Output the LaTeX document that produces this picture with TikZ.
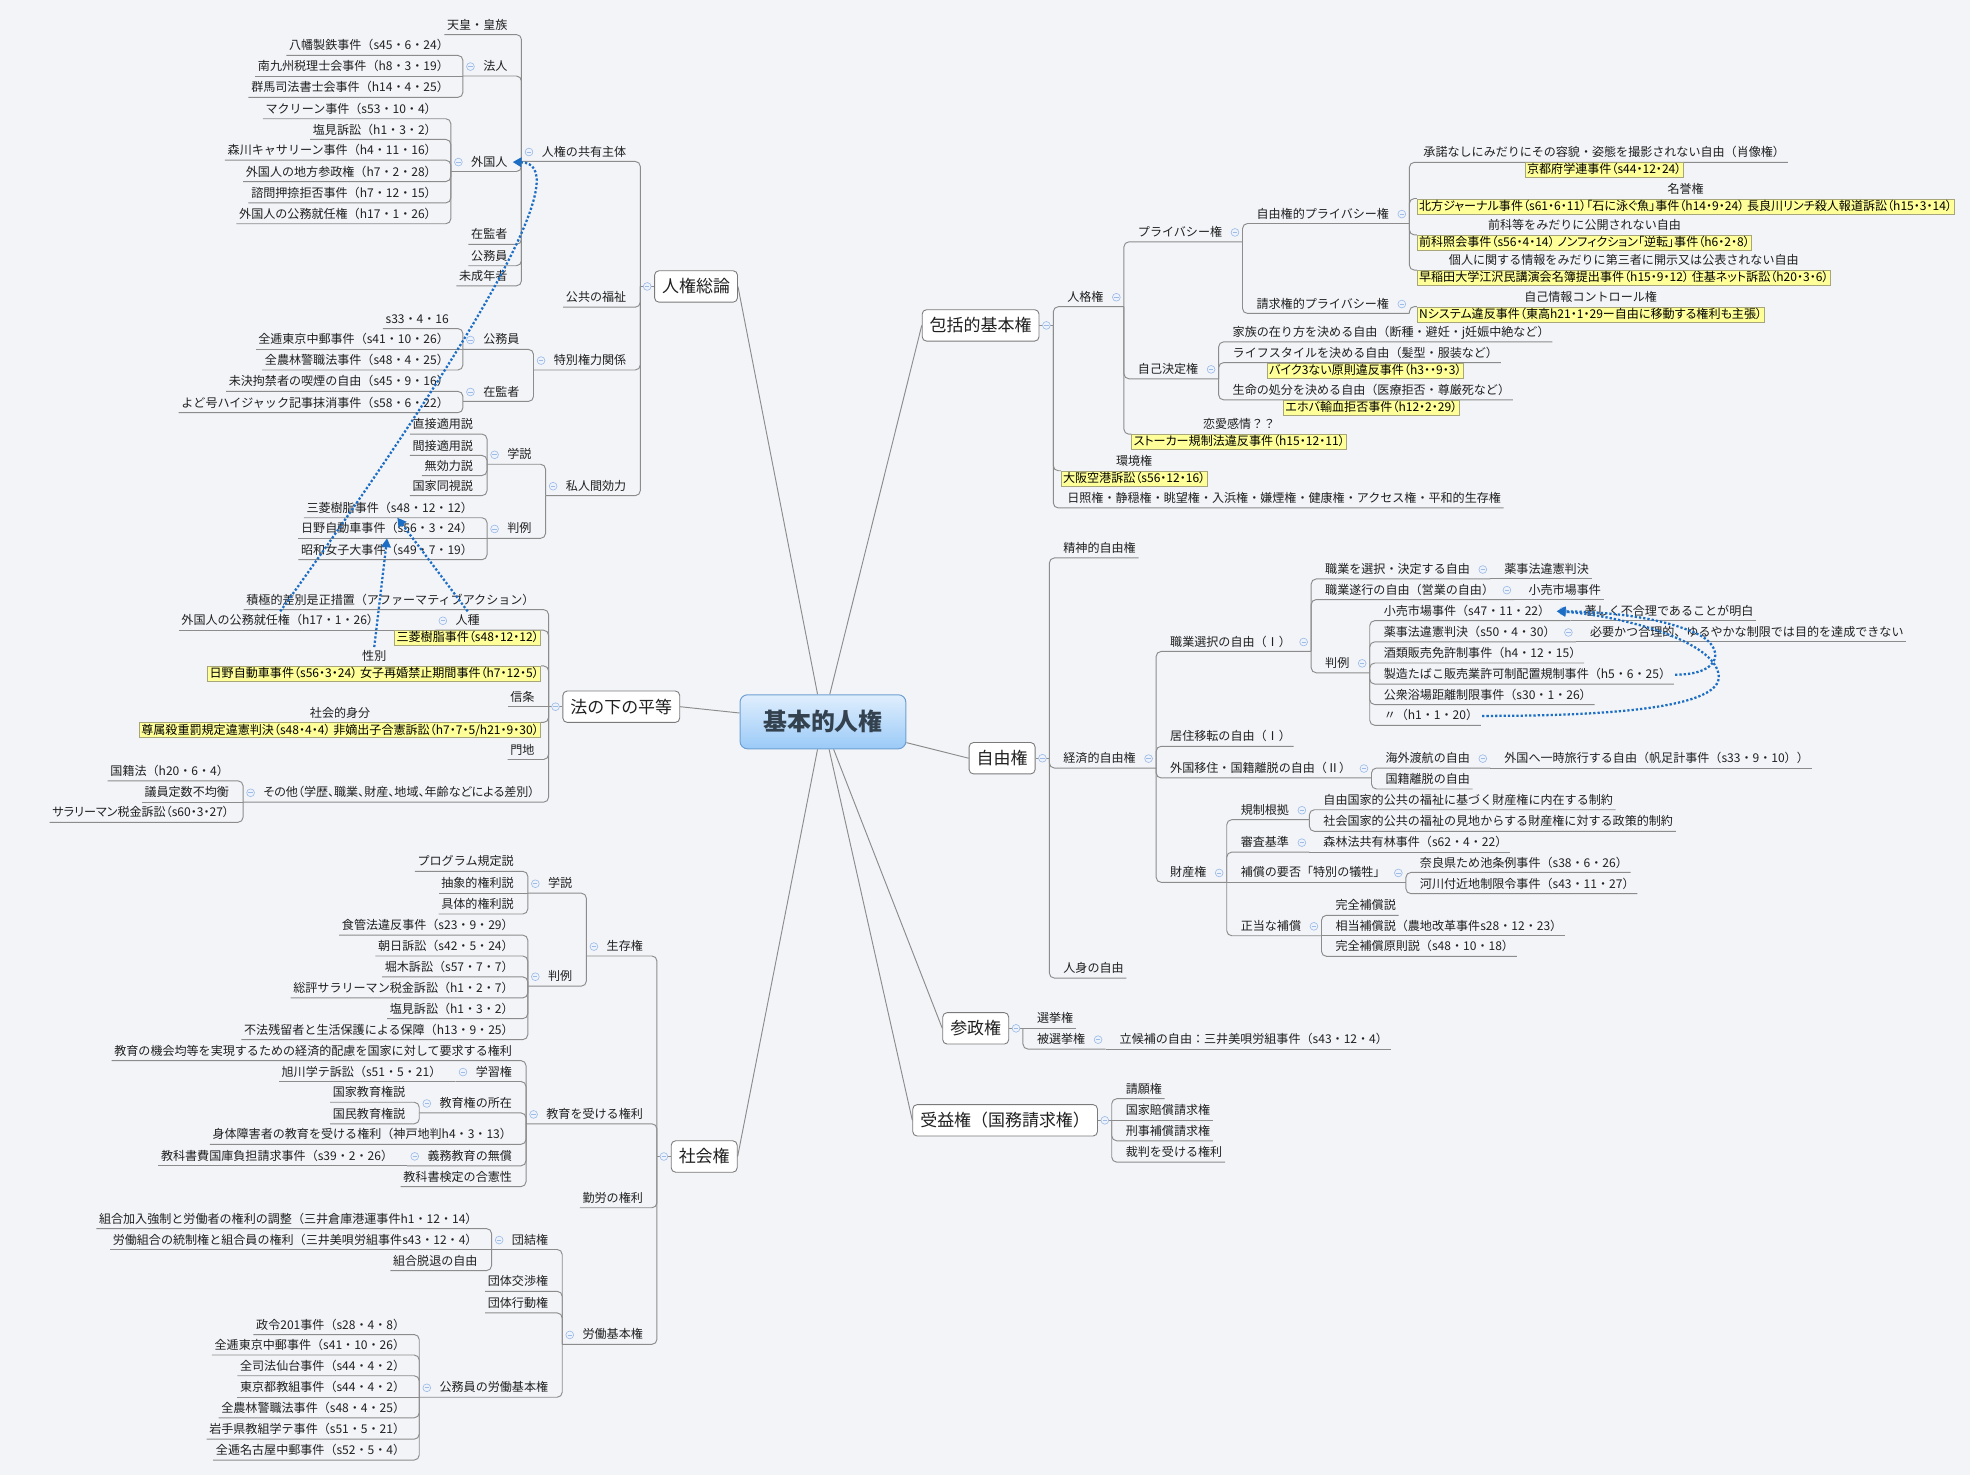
\documentclass[tikz,border=0pt]{standalone}
\usepackage{fontspec}
\newfontfamily\jpn{Noto Sans CJK JP}
\newfontfamily\jpy[RawFeature=+palt]{Noto Sans CJK JP}
\usetikzlibrary{arrows.meta}
\definecolor{bgcol}{HTML}{F2F4F8}
\definecolor{lncol}{HTML}{8C8C8C}
\definecolor{txtcol}{HTML}{202020}
\definecolor{iccol}{HTML}{9DBBE6}
\definecolor{icfill}{HTML}{EEF3FB}
\definecolor{yfill}{HTML}{FFFF99}
\definecolor{ydraw}{HTML}{A6A67A}
\definecolor{boxcol}{HTML}{7A7A7A}
\definecolor{relcol}{HTML}{1C6DC4}
\definecolor{cenT}{HTML}{E0EEFD}
\definecolor{cenB}{HTML}{9ACAF7}
\definecolor{cenbd}{HTML}{6E9FD2}
\definecolor{centx}{HTML}{34424F}
\pgfdeclarelayer{bgl}
\pgfdeclarelayer{background}
\pgfsetlayers{bgl,background,main}
\tikzset{
  tx/.style={font=\jpn\fontsize{9.6pt}{11pt}\selectfont, text=txtcol, inner xsep=2pt, inner ysep=2.5pt, text height=8pt, text depth=1.6pt},
  ybox/.style={font=\jpy\fontsize{9.6pt}{11pt}\selectfont, text=black, fill=yfill, draw=ydraw, line width=0.5pt, inner xsep=1.5pt, inner ysep=1.2pt, text height=7.8pt, text depth=1.8pt},
  ln/.style={draw=lncol, line width=0.75pt, rounded corners=4pt},
  ic/.style={circle, draw=iccol, fill=icfill, line width=0.5pt, minimum size=6.2pt, inner sep=0pt,
    path picture={\draw[iccol,line width=0.6pt] ([xshift=-1.7pt]path picture bounding box.center) -- ([xshift=1.7pt]path picture bounding box.center);}},
  mbox/.style={font=\jpn\fontsize{13.5pt}{15pt}\selectfont, text=txtcol, draw=boxcol, fill=white, rounded corners=3.5pt, line width=0.7pt, inner xsep=6pt, inner ysep=0pt, minimum height=25pt},
  central/.style={font=\jpn\bfseries\fontsize{19pt}{21pt}\selectfont, text=centx, draw=cenbd, line width=0.8pt, rounded corners=6pt, top color=cenT, bottom color=cenB, minimum width=132pt, minimum height=43pt},
  rel/.style={draw=relcol, line width=1.8pt, dash pattern=on 1.8pt off 1.6pt, -{Triangle[length=7pt,width=7.5pt]}},
}
\newcommand\onbg[1]{\begin{pgfonlayer}{background}#1\end{pgfonlayer}}
% left side
\newcommand\lfL[4]{%
  \node[tx,anchor=east,xshift=-9pt] (#1) at (#2 |- 0,#3) {#4};%
  \onbg{\draw[ln] (#2) |- (#1.south west);}}
\newcommand\lfLs[3]{%
  \node[tx,anchor=south east,xshift=-9pt] (#1) at (#2) {#3};%
  \onbg{\draw[ln] (#2) -- (#1.south west);}}
\newcommand\ndL[4]{%
  \node[tx,anchor=east,xshift=-9pt] (#1) at (#2 |- 0,#3) {#4};%
  \node[ic] (#1i) at ([xshift=-8pt]#1.west) {};%
  \coordinate (#1j) at ([xshift=-14pt]#1.south west);%
  \onbg{\draw[ln] (#2) |- (#1j);}}
\newcommand\ylLb[5]{%
  \node[ybox,anchor=north east,xshift=-6pt] (#1b) at (#2 |- 0,#3) {#5};%
  \node[tx,anchor=south] (#1) at (#1b.north) {#4};%
  \onbg{\draw[ln] (#2) |- (#1b.north east);}}
% right side
\newcommand\lfR[4]{%
  \node[tx,anchor=west,xshift=9pt] (#1) at (#2 |- 0,#3) {#4};%
  \onbg{\draw[ln] (#2) |- (#1.south east);}}
\newcommand\lfRs[3]{%
  \node[tx,anchor=south west,xshift=9pt] (#1) at (#2) {#3};%
  \onbg{\draw[ln] (#2) -- (#1.south east);}}
\newcommand\ndR[4]{%
  \node[tx,anchor=west,xshift=9pt] (#1) at (#2 |- 0,#3) {#4};%
  \node[ic] (#1i) at ([xshift=8pt]#1.east) {};%
  \coordinate (#1j) at ([xshift=14pt]#1.south east);%
  \onbg{\draw[ln] (#2) |- (#1j);}}
\newcommand\ndRs[3]{%
  \node[tx,anchor=south west,xshift=9pt] (#1) at (#2) {#3};%
  \node[ic] (#1i) at ([xshift=8pt]#1.east) {};%
  \coordinate (#1j) at ([xshift=14pt]#1.south east);%
  \onbg{\draw[ln] (#2) -- (#1j);}}
\newcommand\ylRb[5]{%
  \node[ybox,anchor=north west,xshift=6pt] (#1b) at (#2 |- 0,#3) {#5};%
  \node[tx,anchor=south] (#1) at (#1b.north) {#4};%
  \onbg{\draw[ln] (#2) |- (#1b.north west);}}
\newcommand\ylRt[5]{%
  \node[tx,anchor=south west,xshift=9pt] (#1) at (#2 |- 0,#3) {#4};%
  \node[ybox,anchor=north] (#1b) at (#1.south) {#5};%
  \onbg{\draw[ln] (#2) |- (#1.south east);}}
% main topics
\newcommand\mainL[4]{%
  \node[mbox] (#1) at (#2,#3) {#4};%
  \coordinate (#1j) at ([xshift=-11pt]#1.west);%
  \onbg{\draw[ln] (#1.west) -- (#1j); \draw[ln] (root) -- (#1.east);}%
  \node[ic] (#1i) at ([xshift=-5.5pt]#1.west) {};}
\newcommand\mainR[4]{%
  \node[mbox] (#1) at (#2,#3) {#4};%
  \coordinate (#1j) at ([xshift=11pt]#1.east);%
  \onbg{\draw[ln] (#1.east) -- (#1j); \draw[ln] (root) -- (#1.west);}%
  \node[ic] (#1i) at ([xshift=5.5pt]#1.east) {};}
\begin{document}
\begin{tikzpicture}[x=1pt,y=-1pt]
\useasboundingbox (0,0) rectangle (1568,1174);
\begin{pgfonlayer}{bgl}\fill[bgcol] (0,0) rectangle (1568,1174);\end{pgfonlayer}
\node[central] (root) at (655,574.5) {基本的人権};

% ===== 人権総論 =====
\mainL{SK}{554}{228}{人権総論}
\ndL{a1}{SKj}{121}{人権の共有主体}
\lfL{a2}{SKj}{237}{公共の福祉}
\ndL{a3}{SKj}{287}{特別権力関係}
\ndL{a4}{SKj}{387}{私人間効力}
\lfL{a11}{a1j}{20}{天皇・皇族}
\ndL{a12}{a1j}{53}{法人}
\ndL{a13}{a1j}{129}{外国人}
\lfL{a14}{a1j}{187}{在監者}
\lfL{a15}{a1j}{204}{公務員}
\lfL{a16}{a1j}{220}{未成年者}
\lfL{a121}{a12j}{36.6}{八幡製鉄事件（s45・6・24）}
\lfLs{a122}{a12j}{南九州税理士会事件（h8・3・19）}
\lfL{a123}{a12j}{70}{群馬司法書士会事件（h14・4・25）}
\lfL{a131}{a13j}{87}{マクリーン事件（s53・10・4）}
\lfL{a132}{a13j}{103.5}{塩見訴訟（h1・3・2）}
\lfL{a133}{a13j}{120}{森川キャサリーン事件（h4・11・16）}
\lfL{a134}{a13j}{137}{外国人の地方参政権（h7・2・28）}
\lfL{a135}{a13j}{154}{諮問押捺拒否事件（h7・12・15）}
\lfL{a136}{a13j}{170.6}{外国人の公務就任権（h17・1・26）}
\ndL{a31}{a3j}{270.6}{公務員}
\ndL{a32}{a3j}{312}{在監者}
\lfL{a311}{a31j}{254}{s33・4・16}
\lfLs{a312}{a31j}{全逓東京中郵事件（s41・10・26）}
\lfL{a313}{a31j}{287}{全農林警職法事件（s48・4・25）}
\lfL{a321}{a32j}{304}{未決拘禁者の喫煙の自由（s45・9・16）}
\lfL{a322}{a32j}{321}{よど号ハイジャック記事抹消事件（s58・6・22）}
\ndL{a41}{a4j}{362}{学説}
\ndL{a42}{a4j}{421}{判例}
\lfL{a411}{a41j}{338}{直接適用説}
\lfL{a412}{a41j}{355}{間接適用説}
\lfL{a413}{a41j}{371}{無効力説}
\lfL{a414}{a41j}{387}{国家同視説}
\lfL{a421}{a42j}{404.6}{三菱樹脂事件（s48・12・12）}
\lfLs{a422}{a42j}{日野自動車事件（s56・3・24）}
\lfL{a423}{a42j}{438}{昭和女子大事件（s49・7・19）}

% ===== 法の下の平等 =====
\mainL{HB}{494.5}{562.5}{法の下の平等}
\lfL{b1}{HBj}{477.7}{積極的差別是正措置（アファーマティブアクション）}
\node[ybox,anchor=north east,xshift=-6pt] (b2b) at (HBj |- 0,501.6) {三菱樹脂事件（s48・12・12）};
\node[tx,anchor=south] (b2) at (b2b.north) {人種};
\node[ic] (b2i) at ([xshift=-8pt]b2.west) {};
\coordinate (b2j) at ([xshift=-14pt]b2.south west);
\onbg{\draw[ln] (HBj) |- (b2j);}
\node[tx,anchor=south east,xshift=-10pt] (b21) at (b2b.north west) {外国人の公務就任権（h17・1・26）};
\onbg{\draw[ln] (b2j) -- (b21.south west);}
\ylLb{b3}{HBj}{530}{性別}{日野自動車事件（s56・3・24） 女子再婚禁止期間事件（h7・12・5）}
\lfLs{b4}{HBj}{信条}
\ylLb{b5}{HBj}{575}{社会的身分}{尊属殺重罰規定違憲判決（s48・4・4） 非嫡出子合憲訴訟（h7・7・5/h21・9・30）}
\lfL{b6}{HBj}{597}{門地}
\ndL{b7}{HBj}{631}{\jpy その他（学歴、職業、財産、地域、年齢などによる差別）}
\lfL{b71}{b7j}{614}{国籍法（h20・6・4）}
\lfLs{b72}{b7j}{議員定数不均衡}
\lfL{b73}{b7j}{647}{\jpy サラリーマン税金訴訟（s60・3・27）}

% ===== 社会権 =====
\mainL{SH}{560.5}{920.5}{社会権}
\ndL{c1}{SHj}{753.4}{生存権}
\ndL{c2}{SHj}{887}{教育を受ける権利}
\lfL{c3}{SHj}{953.8}{勤労の権利}
\ndL{c4}{SHj}{1062.5}{労働基本権}
\ndL{c11}{c1j}{703.4}{学説}
\ndL{c12}{c1j}{777.4}{判例}
\lfL{c111}{c11j}{686}{プログラム規定説}
\lfLs{c112}{c11j}{抽象的権利説}
\lfL{c113}{c11j}{720}{具体的権利説}
\lfL{c121}{c12j}{736.8}{食管法違反事件（s23・9・29）}
\lfL{c122}{c12j}{753.4}{朝日訴訟（s42・5・24）}
\lfL{c123}{c12j}{770}{堀木訴訟（s57・7・7）}
\lfL{c124}{c12j}{786.8}{総評サラリーマン税金訴訟（h1・2・7）}
\lfL{c125}{c12j}{803.3}{塩見訴訟（h1・3・2）}
\lfL{c126}{c12j}{820}{不法残留者と生活保護による保障（h13・9・25）}
\lfL{c21}{c2j}{836.7}{教育の機会均等を実現するための経済的配慮を国家に対して要求する権利}
\ndL{c22}{c2j}{853.3}{学習権}
\lfLs{c221}{c22j}{旭川学テ訴訟（s51・5・21）}
\ndL{c23}{c2j}{878.3}{教育権の所在}
\lfL{c231}{c23j}{869.8}{国家教育権説}
\lfL{c232}{c23j}{887}{国民教育権説}
\lfL{c24}{c2j}{903.3}{身体障害者の教育を受ける権利（神戸地判h4・3・13）}
\ndL{c25}{c2j}{920.4}{義務教育の無償}
\lfLs{c251}{c25j}{教科書費国庫負担請求事件（s39・2・26）}
\lfL{c26}{c2j}{937}{教科書検定の合憲性}
\ndL{c41}{c4j}{987}{団結権}
\lfL{c42}{c4j}{1020.3}{団体交渉権}
\lfL{c43}{c4j}{1037.5}{団体行動権}
\ndL{c44}{c4j}{1104.6}{公務員の労働基本権}
\lfL{c411}{c41j}{970.4}{組合加入強制と労働者の権利の調整（三井倉庫港運事件h1・12・14）}
\lfLs{c412}{c41j}{労働組合の統制権と組合員の権利（三井美唄労組事件s43・12・4）}
\lfL{c413}{c41j}{1003.8}{組合脱退の自由}
\lfL{c441}{c44j}{1054.7}{政令201事件（s28・4・8）}
\lfL{c442}{c44j}{1071}{全逓東京中郵事件（s41・10・26）}
\lfL{c443}{c44j}{1087.5}{全司法仙台事件（s44・4・2）}
\lfLs{c444}{c44j}{東京都教組事件（s44・4・2）}
\lfL{c445}{c44j}{1121}{全農林警職法事件（s48・4・25）}
\lfL{c446}{c44j}{1138}{岩手県教組学テ事件（s51・5・21）}
\lfL{c447}{c44j}{1154.6}{全逓名古屋中郵事件（s52・5・4）}

% ===== 包括的基本権 =====
\mainR{HK}{780.5}{259}{包括的基本権}
\ndR{d1}{HKj}{236.6}{人格権}
\ylRb{d2}{HKj}{374.7}{環境権}{大阪空港訴訟（s56・12・16）}
\lfR{d3}{HKj}{396.8}{日照権・静穏権・眺望権・入浜権・嫌煙権・健康権・アクセス権・平和的生存権}
\ndR{d11}{d1j}{185}{プライバシー権}
\ndR{d12}{d1j}{294}{自己決定権}
\ylRb{d13}{d1j}{345.6}{恋愛感情？？}{ストーカー規制法違反事件（h15・12・11）}
\ndR{d111}{d11j}{170.4}{自由権的プライバシー権}
\ndR{d112}{d11j}{242}{請求権的プライバシー権}
\ylRt{d1111}{d111j}{129.2}{承諾なしにみだりにその容貌・姿態を撮影されない自由（肖像権）}{京都府学連事件（s44・12・24）}
\ylRb{d1112}{d111j}{158}{名誉権}{北方ジャーナル事件（s61・6・11）「石に泳ぐ魚」事件（h14・9・24） 長良川リンチ殺人報道訴訟（h15・3・14）}
\ylRb{d1113}{d111j}{187}{前科等をみだりに公開されない自由}{前科照会事件（s56・4・14） ノンフィクション「逆転」事件（h6・2・8）}
\ylRb{d1114}{d111j}{215}{個人に関する情報をみだりに第三者に開示又は公表されない自由}{早稲田大学江沢民講演会名簿提出事件（h15・9・12） 住基ネット訴訟（h20・3・6）}
\ylRb{d1121}{d112j}{244}{自己情報コントロール権}{Nシステム違反事件（東高h21・1・29ー自由に移動する権利も主張）}
\lfR{d121}{d12j}{264.6}{家族の在り方を決める自由（断種・避妊・j妊娠中絶など）}
\ylRt{d122}{d12j}{288.6}{ライフスタイルを決める自由（髪型・服装など）}{バイク3ない原則違反事件（h3・・9・3）}
\ylRt{d123}{d12j}{318.3}{生命の処分を決める自由（医療拒否・尊厳死など）}{エホバ輸血拒否事件（h12・2・29）}

% ===== 自由権 =====
\mainR{JY}{797.6}{603.5}{自由権}
\lfR{e1}{JYj}{436.6}{精神的自由権}
\ndR{e2}{JYj}{603.8}{経済的自由権}
\lfR{e3}{JYj}{771}{人身の自由}
\ndR{e21}{e2j}{511}{職業選択の自由（Ⅰ）}
\lfR{e22}{e2j}{586.5}{居住移転の自由（Ⅰ）}
\ndR{e23}{e2j}{611.7}{外国移住・国籍離脱の自由（Ⅱ）}
\ndR{e24}{e2j}{694.8}{財産権}
\ndR{e211}{e21j}{453.3}{職業を選択・決定する自由}
\ndR{e212}{e21j}{469.7}{職業遂行の自由（営業の自由）}
\ndR{e213}{e21j}{528}{判例}
\lfRs{e2111}{e211j}{薬事法違憲判決}
\lfRs{e2121}{e212j}{小売市場事件}
\ndR{e2131}{e213j}{486.5}{小売市場事件（s47・11・22）}
\ndR{e2132}{e213j}{503.4}{薬事法違憲判決（s50・4・30）}
\lfR{e2133}{e213j}{520.2}{酒類販売免許制事件（h4・12・15）}
\lfR{e2134}{e213j}{537}{製造たばこ販売業許可制配置規制事件（h5・6・25）}
\lfR{e2135}{e213j}{553.3}{公衆浴場距離制限事件（s30・1・26）}
\lfR{e2136}{e213j}{569.8}{〃（h1・1・20）}
\lfRs{e21311}{e2131j}{著しく不合理であることが明白}
\lfRs{e21321}{e2132j}{必要かつ合理的、ゆるやかな制限では目的を達成できない}
\ndR{e231}{e23j}{603.8}{海外渡航の自由}
\lfR{e232}{e23j}{620.5}{国籍離脱の自由}
\lfRs{e2311}{e231j}{外国へ一時旅行する自由（帆足計事件（s33・9・10））}
\ndR{e241}{e24j}{644.9}{規制根拠}
\ndR{e242}{e24j}{670.7}{審査基準}
\ndRs{e243}{e24j}{補償の要否「特別の犠牲」}
\ndR{e244}{e24j}{737.3}{正当な補償}
\lfR{e2411}{e241j}{637}{自由国家的公共の福祉に基づく財産権に内在する制約}
\lfR{e2412}{e241j}{654.2}{社会国家的公共の福祉の見地からする財産権に対する政策的制約}
\lfRs{e2421}{e242j}{森林法共有林事件（s62・4・22）}
\lfR{e2431}{e243j}{686.9}{奈良県ため池条例事件（s38・6・26）}
\lfR{e2432}{e243j}{703.8}{河川付近地制限令事件（s43・11・27）}
\lfR{e2441}{e244j}{721}{完全補償説}
\lfRs{e2442}{e244j}{相当補償説（農地改革事件s28・12・23）}
\lfR{e2443}{e244j}{753.7}{完全補償原則説（s48・10・18）}

% ===== 参政権 =====
\mainR{SS}{776.6}{818.5}{参政権}
\lfRs{f1}{SSj}{選挙権}
\ndR{f2}{SSj}{827.5}{被選挙権}
\lfRs{f21}{f2j}{立候補の自由：三井美唄労組事件（s43・12・4）}

% ===== 受益権 =====
\mainR{JE}{800}{891.7}{受益権（国務請求権）}
\lfR{g1}{JEj}{867}{請願権}
\lfRs{g2}{JEj}{国家賠償請求権}
\lfR{g3}{JEj}{900.5}{刑事補償請求権}
\lfR{g4}{JEj}{917.5}{裁判を受ける権利}

% ===== relationships =====
\draw[rel] (b21.north) .. controls (400,240) and (455,130) .. ([xshift=2pt]a13.east);
\draw[rel] (b2.north) -- ([xshift=6pt]a421.south);
\draw[rel] (b3.north) -- (a422.south);
\draw[rel] ([xshift=1pt]e2134.east) .. controls (1372,537) and (1372,515) .. (1352,505) .. controls (1320,490) and (1275,487) .. ([xshift=3pt]e2131.east);
\draw[rel] ([xshift=1pt]e2136.east) .. controls (1290,570) and (1370,562) .. (1368,538) .. controls (1366,510) and (1290,490) .. ([xshift=3pt]e2131.east);
\end{tikzpicture}
\end{document}
